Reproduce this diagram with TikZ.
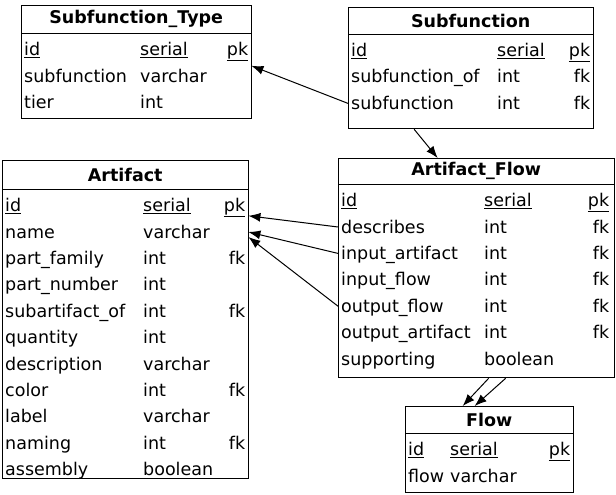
\documentclass[tikz,border=0pt]{standalone}
\usepackage{fontspec}
\setmainfont{DejaVu Sans}
\usetikzlibrary{positioning,arrows.meta}
\newlength{\colA}
\newlength{\rowW}
\newcommand{\fld}[3]{\hbox to \rowW{\hbox to \colA{#1\hss}#2\hfil #3}}
\newcommand{\pkrow}[3]{\fld{\underline{#1}}{\underline{#2}}{\underline{#3}}}

\begin{document}
\begin{tikzpicture}[
    x=1pt, y=-1pt,
    every node/.style={font=\fontsize{17.5}{20}\selectfont},
    tbl/.style={rectangle, draw, line width=1.3pt, anchor=north west, inner sep=0pt},
    head/.style={rectangle, anchor=north west, inner sep=0pt, font=\fontsize{17.5}{20}\selectfont\bfseries},
    fld/.style={rectangle, inner xsep=3pt, inner ysep=0pt, minimum height=26pt, text height=16pt, text depth=4pt},
    link/.style={-{Latex[length=12pt,width=9pt]}, line width=1pt}
]
    \useasboundingbox (0,0) rectangle (616,495);

    % Subfunction_Type
    \node[tbl, minimum width=230pt, minimum height=113pt] (sft) at (21,5) {};
    \node[head, minimum width=230pt, minimum height=28pt] (sfthead) at (sft.north west) {Subfunction\_Type};
    \draw[line width=1.2pt] (sfthead.south west) -- (sfthead.south east);
    \setlength{\colA}{116pt}\setlength{\rowW}{224pt}
    \node[fld, anchor=north west] (sft-id) at ([yshift=-3pt]sfthead.south west) {\pkrow{id}{serial}{pk}};
    \node[fld, below=0pt of sft-id] (sft-sub) {\fld{subfunction}{varchar}{}};
    \node[fld, below=0pt of sft-sub] (sft-tier) {\fld{tier}{int}{}};

    % Subfunction
    \node[tbl, minimum width=245pt, minimum height=121pt] (sf) at (348,7) {};
    \node[head, minimum width=245pt, minimum height=27pt] (sfhead) at (sf.north west) {Subfunction};
    \draw[line width=1.2pt] (sfhead.south west) -- (sfhead.south east);
    \setlength{\colA}{146pt}\setlength{\rowW}{239pt}
    \node[fld, anchor=north west] (sf-id) at ([yshift=-3pt]sfhead.south west) {\pkrow{id}{serial}{pk}};
    \node[fld, below=0pt of sf-id] (sf-of) {\fld{subfunction\_of}{int}{fk}};
    \node[fld, below=0pt of sf-of] (sf-sub) {\fld{subfunction}{int}{fk}};

    % Artifact
    \node[tbl, minimum width=246pt, minimum height=318pt] (art) at (2,160) {};
    \node[head, minimum width=246pt, minimum height=29pt] (arthead) at (art.north west) {Artifact};
    \draw[line width=1.2pt] (arthead.south west) -- (arthead.south east);
    \setlength{\colA}{138pt}\setlength{\rowW}{240pt}
    \node[fld, anchor=north west] (art-id) at ([yshift=-3pt]arthead.south west) {\pkrow{id}{serial}{pk}};
    \node[fld, below=0pt of art-id] (art-name) {\fld{name}{varchar}{}};
    \node[fld, below=0pt of art-name] (art-fam) {\fld{part\_family}{int}{fk}};
    \node[fld, below=0pt of art-fam] (art-num) {\fld{part\_number}{int}{}};
    \node[fld, below=0pt of art-num] (art-subof) {\fld{subartifact\_of}{int}{fk}};
    \node[fld, below=0pt of art-subof] (art-qty) {\fld{quantity}{int}{}};
    \node[fld, below=0pt of art-qty] (art-desc) {\fld{description}{varchar}{}};
    \node[fld, below=0pt of art-desc] (art-color) {\fld{color}{int}{fk}};
    \node[fld, below=0pt of art-color] (art-label) {\fld{label}{varchar}{}};
    \node[fld, below=0pt of art-label] (art-naming) {\fld{naming}{int}{fk}};
    \node[fld, below=0pt of art-naming] (art-asm) {\fld{assembly}{boolean}{}};

    % Artifact_Flow
    \node[tbl, minimum width=276pt, minimum height=219pt] (af) at (338,158) {};
    \node[head, minimum width=276pt, minimum height=26pt] (afhead) at (af.north west) {Artifact\_Flow};
    \draw[line width=1.2pt] (afhead.south west) -- (afhead.south east);
    \setlength{\colA}{143pt}\setlength{\rowW}{268pt}
    \node[fld, anchor=north west] (af-id) at ([yshift=-3pt]afhead.south west) {\pkrow{id}{serial}{pk}};
    \node[fld, below=0pt of af-id] (af-desc) {\fld{describes}{int}{fk}};
    \node[fld, below=0pt of af-desc] (af-inart) {\fld{input\_artifact}{int}{fk}};
    \node[fld, below=0pt of af-inart] (af-infl) {\fld{input\_flow}{int}{fk}};
    \node[fld, below=0pt of af-infl] (af-outfl) {\fld{output\_flow}{int}{fk}};
    \node[fld, below=0pt of af-outfl] (af-outart) {\fld{output\_artifact}{int}{fk}};
    \node[fld, below=0pt of af-outart] (af-supp) {\fld{supporting}{boolean}{}};

    % Flow
    \node[tbl, minimum width=168pt, minimum height=86pt] (fl) at (405,406) {};
    \node[head, minimum width=168pt, minimum height=27pt] (flhead) at (fl.north west) {Flow};
    \draw[line width=1.2pt] (flhead.south west) -- (flhead.south east);
    \setlength{\colA}{42pt}\setlength{\rowW}{162pt}
    \node[fld, anchor=north west] (fl-id) at ([yshift=-3pt]flhead.south west) {\pkrow{id}{serial}{pk}};
    \node[fld, below=0pt of fl-id] (fl-flow) {\fld{flow}{varchar}{}};

    % Links
    \draw[link] (sf-sub.west) -- ([yshift=-3pt]sft-id.south east);
    \draw[link] ([xshift=-57pt]sf.south) -- ([xshift=-39pt]af.north);
    \draw[link] (af-desc.west) -- ([yshift=3pt]art-id.south east);
    \draw[link] (af-inart.west) -- (art-name.east);
    \draw[link] (af-outfl.west) -- ([yshift=-5pt]art-name.east);
    \draw[link] ([xshift=12pt]af.south) -- ([xshift=-27pt]fl.north);
    \draw[link] ([xshift=29pt]af.south) -- ([xshift=-15pt]fl.north);
\end{tikzpicture}
\end{document}
